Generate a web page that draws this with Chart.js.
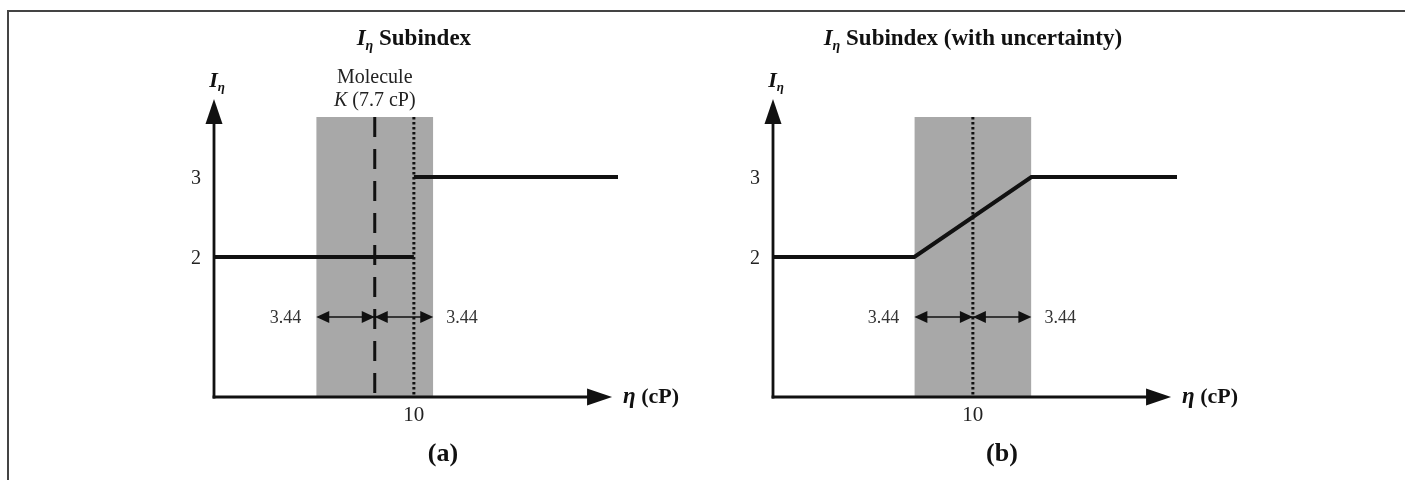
<!DOCTYPE html>
<html><head><meta charset="utf-8">
<script src="https://cdn.jsdelivr.net/npm/chart.js@4.4.0/dist/chart.umd.min.js"></script>
<style>
html,body{margin:0;padding:0;background:#fff;width:1405px;height:480px;overflow:hidden;}
#frame{position:absolute;left:7px;top:10px;width:1420px;height:500px;border-top:2px solid #444;border-left:2px solid #444;}
.wrap{position:absolute;top:0;height:480px;}
#wa{left:0;width:702px}
#wb{left:702px;width:703px}
</style></head><body>
<div id="frame"></div>
<div class="wrap" id="wa"><canvas id="ca"></canvas></div>
<div class="wrap" id="wb"><canvas id="cb"></canvas></div>
<script>
// ---- data ----
const xTickValues = [10];
const xTickLabels = ['10'];
const yTickValues = [2, 3];
const yTickLabels = ['2', '3'];
const thresholdCP = 10;          // dotted line
const moleculeKCP = 7.7;         // dashed line (panel a)
const uncertaintyCP = 3.44;      // half-width of grey band
const uncertaintyLabels = ['3.44', '3.44'];
const bandTopY = 3.75;
// panel (a): step function
const stepLowX = [-1.75, 10];
const stepLowY = [2, 2];
const stepHighX = [10, 22];
const stepHighY = [3, 3];
// panel (b): ramp with uncertainty
const rampX = [-1.75, 6.56, 13.44, 22];
const rampY = [2, 2, 3, 3];
// band limits
const bandA = [4.26, 11.14];
const bandB = [6.56, 13.44];
// axis extents
const xRange = [-1.75, 22];
const yRange = [0.25, 4];
const xAxisEnd = 21.65;
const yAxisEnd = 3.975;
const arrowRowY = 1.25;
const titles = ['Subindex', 'Subindex (with uncertainty)'];
const panelLetters = ['(a)', '(b)'];

const SERIF = '"Liberation Serif", "DejaVu Serif", serif';
const INK = '#111';

function pts(xs, ys){ return xs.map((x,i)=>({x:x, y:ys[i]})); }

function drawRuns(ctx, parts, x, y, align){
  let w = 0;
  parts.forEach(p=>{ ctx.font = p.f; p.w = ctx.measureText(p.t).width; w += p.w; });
  let sx = align === 'center' ? x - w/2 : (align === 'right' ? x - w : x);
  ctx.textAlign = 'left'; ctx.textBaseline = 'alphabetic';
  parts.forEach(p=>{ ctx.font = p.f; ctx.fillText(p.t, sx, y + (p.dy||0)); sx += p.w; });
}
function head(ctx, x, y, dir, len, hw){
  ctx.beginPath();
  if (dir === 'right'){ ctx.moveTo(x,y); ctx.lineTo(x-len,y-hw); ctx.lineTo(x-len,y+hw); }
  else if (dir === 'left'){ ctx.moveTo(x,y); ctx.lineTo(x+len,y-hw); ctx.lineTo(x+len,y+hw); }
  else { ctx.moveTo(x,y); ctx.lineTo(x-hw,y+len); ctx.lineTo(x+hw,y+len); }
  ctx.closePath(); ctx.fill();
}

const schematic = {
  id: 'schematic',
  afterDraw(chart){
    const o = chart.options.plugins.schematic;
    const ctx = chart.ctx, xs = chart.scales.x, ys = chart.scales.y;
    const L = xs.getPixelForValue(xRange[0]);
    const B = ys.getPixelForValue(yRange[0]);
    const px = v => xs.getPixelForValue(v), py = v => ys.getPixelForValue(v);
    ctx.save();
    ctx.fillStyle = INK; ctx.strokeStyle = INK;
    // axes
    ctx.lineWidth = 2.8; ctx.lineCap = 'butt';
    const xt = px(xAxisEnd), yt = py(yAxisEnd);
    ctx.beginPath(); ctx.moveTo(L - 1.4, B); ctx.lineTo(xt - 20, B); ctx.stroke();
    ctx.beginPath(); ctx.moveTo(L, B + 1.4); ctx.lineTo(L, yt + 20); ctx.stroke();
    head(ctx, xt, B, 'right', 25, 8.5);
    head(ctx, L, yt, 'up', 25, 8.5);
    // y tick labels
    ctx.fillStyle = '#222';
    yTickValues.forEach((v,i)=>{
      drawRuns(ctx, [{t:yTickLabels[i], f:'20px '+SERIF}], L - 13, py(v) + 6.5, 'right');
    });
    xTickValues.forEach((v,i)=>{
      drawRuns(ctx, [{t:xTickLabels[i], f:'21px '+SERIF}], px(v), B + 24, 'center');
    });
    // axis titles
    ctx.fillStyle = INK;
    drawRuns(ctx, [{t:'I', f:'italic bold 22px '+SERIF}, {t:'η', f:'italic bold 13px '+SERIF, dy:4}], L + 3, 87, 'center');
    drawRuns(ctx, [{t:'η', f:'italic bold 23px '+SERIF}, {t:' (cP)', f:'bold 22px '+SERIF}], xt + 11, B + 6, 'left');
    // panel title
    drawRuns(ctx, [{t:'I', f:'italic bold 23px '+SERIF}, {t:'η', f:'italic bold 14px '+SERIF, dy:5}, {t:' '+titles[o.idx], f:'bold 23px '+SERIF}], px(thresholdCP), 45, 'center');
    // panel letter
    drawRuns(ctx, [{t:panelLetters[o.idx], f:'bold 26px '+SERIF}], L + 229, 461, 'center');
    // uncertainty double arrows
    const ay = py(arrowRowY);
    const c = px(o.center), l = px(o.band[0]), r = px(o.band[1]);
    ctx.lineWidth = 1.7;
    ctx.beginPath(); ctx.moveTo(l + 6, ay); ctx.lineTo(r - 6, ay); ctx.stroke();
    head(ctx, l, ay, 'left', 13, 6);
    head(ctx, c, ay, 'right', 13, 6);
    head(ctx, c, ay, 'left', 13, 6);
    head(ctx, r, ay, 'right', 13, 6);
    ctx.fillStyle = '#333';
    drawRuns(ctx, [{t:uncertaintyLabels[0], f:'18px '+SERIF}], l - 15, ay + 6, 'right');
    drawRuns(ctx, [{t:uncertaintyLabels[1], f:'18px '+SERIF}], r + 13, ay + 6, 'left');
    // molecule label
    if (o.molecule){
      ctx.fillStyle = '#222';
      const mx = px(moleculeKCP);
      drawRuns(ctx, [{t:'Molecule', f:'20px '+SERIF}], mx, 83, 'center');
      drawRuns(ctx, [{t:'K', f:'italic 20px '+SERIF}, {t:' (' + moleculeKCP + ' cP)', f:'20px '+SERIF}], mx, 106, 'center');
    }
    ctx.restore();
  }
};

function baseOptions(padding, extra){
  return {
    responsive: true, maintainAspectRatio: false, animation: false,
    layout: { padding: padding },
    scales: {
      x: { type: 'linear', display: false, min: xRange[0], max: xRange[1] },
      y: { type: 'linear', display: false, min: yRange[0], max: yRange[1] }
    },
    plugins: { legend: {display:false}, tooltip: {enabled:false}, schematic: extra },
    elements: { point: { radius: 0, hoverRadius: 0 } }
  };
}
function bandDs(b){
  return { data: pts(b, [bandTopY, bandTopY]), showLine: true, borderWidth: 0, borderColor: 'rgba(0,0,0,0)',
           backgroundColor: '#a8a8a8', fill: 'start', order: 10 };
}
function vline(x, dash, w){
  return { data: pts([x, x], [bandTopY, yRange[0]]), showLine: true, borderColor: INK, borderWidth: w,
           borderDash: dash, fill: false, order: 2 };
}
function curve(xsArr, ysArr){
  return { data: pts(xsArr, ysArr), showLine: true, borderColor: INK, borderWidth: 4, fill: false,
           tension: 0, order: 1, borderJoinStyle: 'miter' };
}

new Chart(document.getElementById('ca'), {
  type: 'scatter',
  data: { datasets: [
    bandDs(bandA),
    vline(moleculeKCP, [20, 12], 3),
    vline(thresholdCP, [2.5, 2.5], 3),
    curve(stepLowX, stepLowY),
    curve(stepHighX, stepHighY)
  ]},
  options: baseOptions({left:214, right:84, top:97, bottom:83}, {idx:0, center: moleculeKCP, band: bandA, molecule: true}),
  plugins: [schematic]
});

new Chart(document.getElementById('cb'), {
  type: 'scatter',
  data: { datasets: [
    bandDs(bandB),
    vline(thresholdCP, [2.5, 2.5], 3),
    curve(rampX, rampY)
  ]},
  options: baseOptions({left:71, right:228, top:97, bottom:83}, {idx:1, center: thresholdCP, band: bandB, molecule: false}),
  plugins: [schematic]
});
</script>
</body></html>
